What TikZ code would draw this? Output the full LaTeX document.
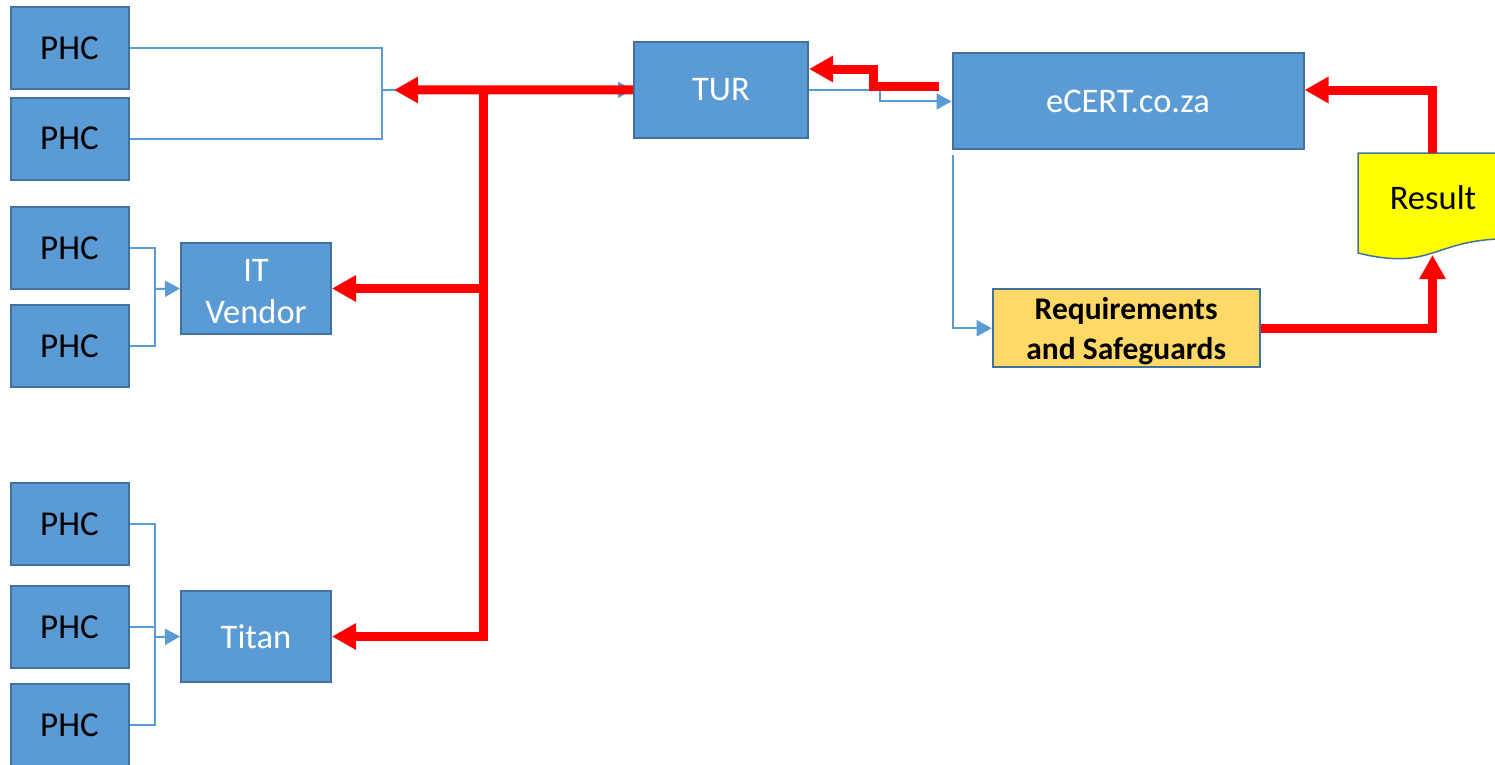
\documentclass[tikz,border=0pt]{standalone}
\usepackage{fontspec}
\setmainfont{Carlito}
\usetikzlibrary{arrows.meta}
\definecolor{boxblue}{HTML}{5B9BD5}
\definecolor{boxedge}{HTML}{41719C}
\definecolor{reqfill}{HTML}{FFD966}
\definecolor{docyellow}{HTML}{FFFF00}
\begin{document}
\begin{tikzpicture}[x=1pt,y=-1pt,
  bluebox/.style={draw=boxedge,line width=2pt,fill=boxblue,inner sep=0pt,align=center,text=white,font=\fontsize{34.5}{41.7}\selectfont},
  phc/.style={bluebox,text=black,minimum width=118pt,minimum height=82pt,font=\fontsize{35}{42}\selectfont},
  vendorbox/.style={bluebox,minimum width=150pt,minimum height=91pt},
  reqbox/.style={draw=boxedge,line width=2pt,fill=reqfill,inner sep=0pt,minimum width=267pt,minimum height=78pt},
  boxtext/.style={align=center,inner sep=0pt},
  blueline/.style={draw=boxblue,line width=2pt},
  bluearrow/.style={blueline,-{Triangle[width=16pt,length=15pt]}},
  redline/.style={draw=red,line width=9pt,line join=miter},
  redarrow/.style={redline,-{Triangle[width=25pt,length=24pt]}},
]
\path[use as bounding box] (0,0) rectangle (1495,764);
\clip (0,0) rectangle (1495,764);

% PHC boxes
\node[phc] (p1) at (69.5,48) {PHC};
\node[phc] (p2) at (69.5,138.7) {PHC};
\node[phc] (p3) at (69.5,248.3) {PHC};
\node[phc] (p4) at (69.5,345.8) {PHC};
\node[phc] (p5) at (69.5,524.2) {PHC};
\node[phc] (p6) at (69.5,627) {PHC};
\node[phc] (p7) at (69.5,725) {PHC};

% middle boxes
\node[vendorbox,label={[boxtext,text=white,font=\fontsize{34.5}{41.7}\selectfont,yshift=-3pt]center:{IT\\Vendor}}] (itv) at (256,288.5) {};
\node[vendorbox] (titan) at (256,636.5) {Titan};
\node[bluebox,minimum width=174pt,minimum height=96pt] (tur) at (721,89.8) {\raisebox{-1.5pt}{TUR}};
\node[bluebox,minimum width=351pt,minimum height=96pt] (ecert) at (1128,101.4) {eCERT.co.za};
\node[reqbox,label={[boxtext,text=black,font=\fontsize{31.5}{39.2}\selectfont\bfseries,yshift=-3pt]center:{Requirements\\and Safeguards}}] (req) at (1126.2,328.2) {};

% Result document shape
\draw[draw=boxedge,line width=1.5pt,fill=docyellow] (1358,153) -- (1508,153) -- (1508,238.8)
  .. controls (1433,238.8) and (1433,271.5) .. (1358,253) -- cycle;
\node[font=\fontsize{34.5}{41.7}\selectfont,text=black] (result) at (1433,197.5) {Result};

% coordinates
\coordinate (bk1) at (382,90);
\coordinate (bk2) at (155,289);
\coordinate (bk3) at (155,637);
\coordinate (r1) at (394,90);
\coordinate (rj) at (483,90);
\coordinate (rs) at (939,86);
\coordinate (rt) at (873,69);
\coordinate (bt) at (880,95);
\coordinate (es) at (952.5,155);
\coordinate (resb) at (1432.5,255);
\coordinate (rest) at (1432.5,153);
\coordinate (rr) at (1432.5,90);

% blue connectors
\draw[blueline] (p1.east) -| (bk1) |- (p2.east);
\draw[bluearrow] (bk1) -- (tur.west);
\draw[blueline] (p3.east) -| (bk2) |- (p4.east);
\draw[bluearrow] (bk2) -- (itv.west);
\draw[blueline] (p5.east) -| (bk3) |- (p7.east);
\draw[blueline] (p6.east) -- (p6.east -| bk3);
\draw[bluearrow] (bk3) -- (titan.west);
\draw[bluearrow] (tur.east) -| (bt) |- (ecert.west);
\draw[bluearrow] (es) |- (req.west);

% red connectors
\draw[redarrow] (tur.west) -- (r1);
\draw[redarrow] (rj) |- (itv.east);
\draw[redarrow] (rj) |- (titan.east);
\draw[redarrow] (rs) -| (rt) -- (rt -| tur.east);
\draw[redarrow] (req.east) -| (resb);
\draw[redarrow] (rest) -- (rr) -- (ecert.east |- rr);
\end{tikzpicture}
\end{document}
